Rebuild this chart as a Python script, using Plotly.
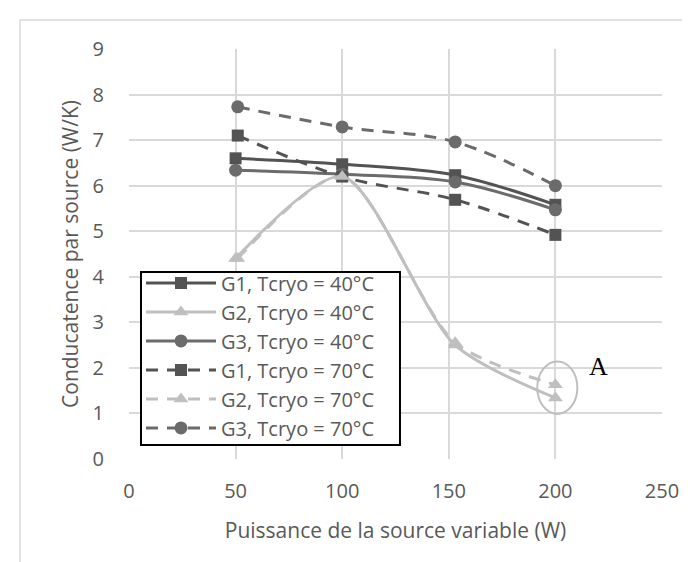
import plotly.graph_objects as go

x_40 = [50, 100, 153, 200]
x_70 = [51, 100, 153, 200]
g1_40 = [6.60, 6.47, 6.23, 5.58]
g2_40 = [4.40, 6.20, 2.50, 1.34]
g3_40 = [6.34, 6.25, 6.08, 5.47]
g1_70 = [7.10, 6.20, 5.69, 4.92]
g2_70 = [4.40, 6.20, 2.55, 1.63]
g3_70 = [7.73, 7.29, 6.96, 6.00]

names = ["G1, Tcryo = 40°C", "G2, Tcryo = 40°C", "G3, Tcryo = 40°C",
         "G1, Tcryo = 70°C", "G2, Tcryo = 70°C", "G3, Tcryo = 70°C"]

C1 = "#535353"
C2 = "#bfbfbf"
C3 = "#6b6b6b"
DASH = "12px,9px"

series = [
    (x_40, g1_40, names[0], C1, "square", "solid", 12, 1.0),
    (x_40, g2_40, names[1], C2, "triangle-up", "solid", 13, 0.75),
    (x_40, g3_40, names[2], C3, "circle", "solid", 13, 1.0),
    (x_70, g1_70, names[3], C1, "square", DASH, 12, 1.0),
    (x_70, g2_70, names[4], C2, "triangle-up", DASH, 13, 0.75),
    (x_70, g3_70, names[5], C3, "circle", DASH, 13, 1.0),
]

fig = go.Figure()
for xs, ys, nm, col, sym, dash, ms, sm in series:
    fig.add_trace(go.Scatter(
        x=xs, y=ys, name=nm, mode="lines+markers",
        line=dict(color=col, width=3, dash=dash, shape="spline", smoothing=sm),
        marker=dict(symbol=sym, size=ms, color=col),
    ))

# ellipse "A" around the G2 points at 200 W
fig.add_shape(type="circle", xref="x", yref="y", x0=191.5, x1=210.3, y0=0.99, y1=2.14,
              line=dict(color="#bfbfbf", width=2))
fig.add_annotation(x=220.4, y=2.02, xref="x", yref="y", text="A", showarrow=False,
                   font=dict(family="Liberation Serif", size=26, color="#000000"))

# chart area border
fig.add_shape(type="rect", xref="paper", yref="paper", x0=-0.2045, x1=1.3, y0=-0.4, y1=1.0707,
              line=dict(color="#d9d9d9", width=1.5), layer="below")
# legend box
fig.add_shape(type="rect", xref="paper", yref="paper", x0=0.0225, x1=0.5084, y0=0.0341, y1=0.4561,
              line=dict(color="#000000", width=2), fillcolor="white", layer="above")

font_axis = dict(family="Open Sans", size=20, color="#595959")
fig.update_layout(
    width=690, height=562,
    margin=dict(l=121, r=36, t=41, b=111, autoexpand=False),
    paper_bgcolor="white", plot_bgcolor="white",
    font=dict(family="Open Sans", color="#595959"),
    showlegend=True,
    legend=dict(x=0.0225, y=0.477, xanchor="left", yanchor="top",
                borderwidth=0, bgcolor="rgba(0,0,0,0)",
                font=dict(family="Open Sans", size=20, color="#595959"),
                itemwidth=70, tracegroupgap=0),
    xaxis=dict(range=[0, 250], dtick=50, tick0=0, showgrid=True, gridcolor="#d9d9d9", gridwidth=1.5,
               zeroline=False, showline=False, ticks="outside", ticklen=14, tickcolor="rgba(0,0,0,0)",
               tickfont=font_axis, automargin=False,
               title=dict(text="Puissance de la source variable (W)", font=dict(family="Open Sans", size=21, color="#595959"), standoff=20)),
    yaxis=dict(range=[0, 9], dtick=1, tick0=0, showgrid=True, gridcolor="#d9d9d9", gridwidth=1.5,
               zeroline=False, showline=False, ticks="outside", ticklen=20, tickcolor="rgba(0,0,0,0)",
               tickfont=font_axis, automargin=False,
               title=dict(text="Conducatence par source (W/K)", font=dict(family="Open Sans", size=21, color="#595959"), standoff=8)),
)

fig.write_html("out.html")
